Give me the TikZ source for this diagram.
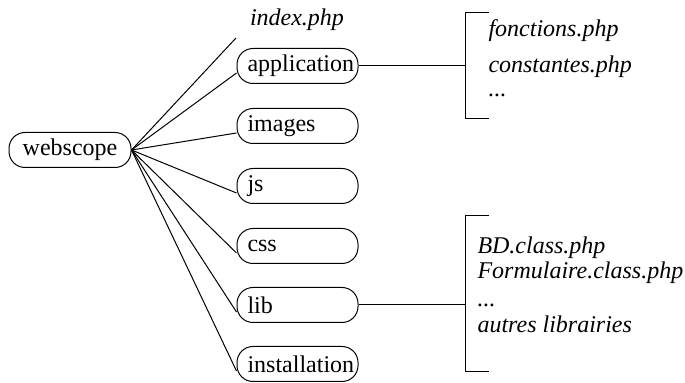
\documentclass[tikz,border=0pt]{standalone}
\usepackage{fontspec}
\setmainfont{Liberation Serif}
\usetikzlibrary{positioning,calc}
\tikzstyle{folder} = [draw, rounded corners=8pt, minimum height=17.5pt, text width=50pt, inner xsep=5.25pt, inner ysep=0pt, align=left]
\tikzstyle{leaf} = [minimum height=17.5pt, text width=50pt, inner xsep=5.25pt, inner ysep=0pt, align=left, font=\fontsize{12}{14}\selectfont\itshape]
\tikzstyle{file} = [anchor=base west, inner sep=0pt, font=\fontsize{12}{14}\selectfont\itshape]
\tikzstyle{Link} = [line width=.5pt]

\begin{document}
\begin{tikzpicture}[x=.5pt, y=-.5pt, font=\fontsize{12}{14}\selectfont, line width=.5pt]
            \useasboundingbox (0,0) rectangle (685,383);
            \node (W) [draw, rounded corners=8pt, minimum width=61pt, minimum height=17.5pt, inner sep=0pt] at (70,150) {webscope};
            %%%%% Contents %%%%%
            \node (I) [leaf] at (300,20) {index.php};
            \node (A) [folder] at (297.5,66) {application};
            \node (M) [folder] at (297.5,126) {images};
            \node (J) [folder] at (297.5,186) {js};
            \node (C) [folder] at (297.5,246) {css};
            \node (L) [folder] at (297.5,305) {lib};
            \node (N) [folder] at (297.5,364) {installation};
            \draw [Link] (W.east) -- ([xshift=-1.5pt]I.south west);
            \draw [Link] (W.east) -- ([yshift=-3.5pt]A.west);
            \draw [Link] (W.east) -- ([yshift=-3.5pt]M.west);
            \draw [Link] (W.east) -- ([yshift=-3.5pt]J.west);
            \draw [Link] (W.east) -- ([yshift=-3.5pt]C.west);
            \draw [Link] (W.east) -- ([yshift=-3.5pt]L.west);
            \draw [Link] (W.east) -- ([yshift=-3.5pt]N.west);
            %%%%% application %%%%%
            \coordinate (B1) at (465,66);
            \coordinate (T1) at (489,13);
            \coordinate (U1) at (489,119);
            \draw [Link] (A.east) -- (A.east -| B1);
            \draw [Link] (T1) -- (T1 -| B1) -- (U1 -| B1) -- (U1);
            \node (F1) [file] at (488,37) {fonctions.php};
            \node (F2) [file] at (488,73) {constantes.php};
            \node (F3) [file] at (488,97) {...};
            %%%%% lib %%%%%
            \coordinate (B2) at (465,300);
            \coordinate (T2) at (489,216);
            \coordinate (U2) at (489,372);
            \draw [Link] (L.east) -- (L.east -| B2);
            \draw [Link] (T2) -- (T2 -| B2) -- (U2 -| B2) -- (U2);
            \node (G1) [file] at (477,254) {BD.class.php};
            \node (G2) [file] at (477,279) {Formulaire.class.php};
            \node (G3) [file] at (477,307) {...};
            \node (G4) [file] at (477,333) {autres librairies};
        \end{tikzpicture}
\end{document}
